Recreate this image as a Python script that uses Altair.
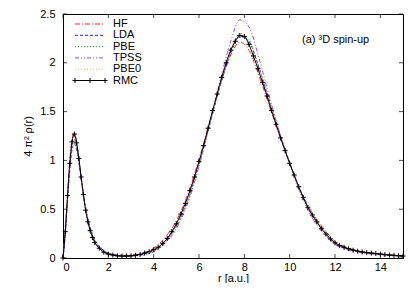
import altair as alt
import pandas as pd

# ---------------- data ----------------
methods = ["HF", "LDA", "PBE", "TPSS", "PBE0"]
colors = {"HF": "#ff2020", "LDA": "#2020ff", "PBE": "#00c000", "TPSS": "#a040f0", "PBE0": "#ffb060"}
dashes = {"HF": [5, 2, 1, 2], "LDA": [3, 2], "PBE": [1, 2], "TPSS": [4, 2, 1, 2, 1, 2], "PBE0": [1, 2]}

r_dft = [0, 0.1, 0.2, 0.3, 0.4, 0.5, 0.6, 0.7, 0.8, 0.9, 1.0, 1.2, 1.4, 1.6, 1.8, 2.0, 2.5, 3.0,
         3.5, 4.0, 4.5, 5.0, 5.5, 6.0, 6.5, 7.0, 7.4, 7.8, 8.2, 8.6, 9.0, 9.5, 10.0, 10.5, 11.0,
         11.5, 12.0, 12.5, 13.0, 14.0, 15.0]

hf = [0, 0.28, 0.66, 1.00, 1.22, 1.28, 1.19, 1.02, 0.83, 0.65, 0.50, 0.29, 0.17, 0.105, 0.065, 0.045,
      0.028, 0.03, 0.05, 0.10, 0.21, 0.38, 0.65, 1.01, 1.42, 1.82, 2.08, 2.21, 2.13, 1.90, 1.63, 1.29,
      0.97, 0.68, 0.46, 0.30, 0.17, 0.11, 0.075, 0.043, 0.022]
lda = [0, 0.24, 0.58, 0.90, 1.11, 1.17, 1.11, 0.98, 0.81, 0.65, 0.51, 0.31, 0.19, 0.12, 0.075, 0.05,
       0.028, 0.025, 0.04, 0.075, 0.17, 0.33, 0.59, 0.96, 1.39, 1.82, 2.10, 2.27, 2.22, 1.98, 1.69, 1.32,
       0.98, 0.67, 0.44, 0.28, 0.155, 0.095, 0.068, 0.038, 0.02]
pbe = [0, 0.25, 0.60, 0.93, 1.14, 1.20, 1.13, 0.99, 0.82, 0.65, 0.50, 0.30, 0.18, 0.11, 0.07, 0.045,
       0.025, 0.022, 0.037, 0.072, 0.165, 0.32, 0.58, 0.95, 1.39, 1.83, 2.12, 2.30, 2.24, 1.99, 1.69, 1.31,
       0.97, 0.66, 0.43, 0.27, 0.15, 0.092, 0.066, 0.037, 0.019]
tpss = [0, 0.26, 0.61, 0.94, 1.16, 1.22, 1.14, 0.99, 0.81, 0.64, 0.49, 0.29, 0.17, 0.10, 0.065, 0.04,
        0.022, 0.018, 0.03, 0.062, 0.15, 0.30, 0.56, 0.94, 1.40, 1.88, 2.22, 2.44, 2.37, 2.09, 1.74, 1.33,
        0.96, 0.64, 0.41, 0.25, 0.14, 0.085, 0.06, 0.033, 0.017]
pbe0 = [0, 0.27, 0.63, 0.97, 1.19, 1.25, 1.17, 1.01, 0.83, 0.65, 0.50, 0.29, 0.175, 0.105, 0.067, 0.043,
        0.024, 0.022, 0.038, 0.075, 0.17, 0.33, 0.59, 0.96, 1.39, 1.83, 2.11, 2.28, 2.22, 1.98, 1.68, 1.31,
        0.97, 0.66, 0.44, 0.28, 0.155, 0.095, 0.068, 0.038, 0.02]

r_rmc = [0.0, 0.1, 0.2, 0.3, 0.4, 0.5, 0.6, 0.7, 0.8, 0.9, 1.0, 1.1, 1.2, 1.3, 1.4,
         1.6, 1.8, 2.0, 2.2, 2.4, 2.6, 2.8, 3.0, 3.2, 3.4, 3.6, 3.8, 4.0, 4.2, 4.4, 4.6, 4.8,
         5.0, 5.2, 5.4, 5.6, 5.8, 6.0, 6.2, 6.4, 6.6, 6.8, 7.0, 7.2, 7.4, 7.6, 7.8, 8.0, 8.2,
         8.4, 8.6, 8.8, 9.0, 9.2, 9.4, 9.6, 9.8, 10.0, 10.2, 10.4, 10.6, 10.8, 11.0, 11.2, 11.4,
         11.6, 11.8, 12.0, 12.2, 12.4, 12.6, 12.8, 13.0, 13.2, 13.4, 13.6, 13.8, 14.0, 14.2,
         14.4, 14.6, 14.8, 15.0]
rmc = [0.00, 0.27, 0.64, 0.97, 1.19, 1.27, 1.18, 1.02, 0.83, 0.65, 0.49, 0.37, 0.28, 0.21, 0.16,
       0.10, 0.06, 0.04, 0.03, 0.022, 0.02, 0.02, 0.022, 0.028, 0.037, 0.05, 0.065, 0.085, 0.11, 0.15,
       0.20, 0.27, 0.35, 0.45, 0.56, 0.69, 0.83, 0.99, 1.15, 1.33, 1.51, 1.68, 1.85, 2.00, 2.13, 2.22,
       2.28, 2.27, 2.19, 2.07, 1.94, 1.80, 1.66, 1.51, 1.37, 1.23, 1.10, 0.97, 0.85, 0.73, 0.62, 0.52,
       0.44, 0.37, 0.30, 0.245, 0.195, 0.155, 0.13, 0.11, 0.095, 0.08, 0.07, 0.062, 0.055, 0.05, 0.045,
       0.04, 0.035, 0.03, 0.027, 0.024, 0.02]

x_ticks = [0, 2, 4, 6, 8, 10, 12, 14]
y_ticks = [0, 0.5, 1, 1.5, 2, 2.5]
legend_names = ["HF", "LDA", "PBE", "TPSS", "PBE0", "RMC"]

W, H = 340, 244
FONT = "Liberation Sans"

xs = alt.Scale(domain=[0, 15], nice=False)
ys = alt.Scale(domain=[0, 2.5], nice=False)

dft_vals = {"HF": hf, "LDA": lda, "PBE": pbe, "TPSS": tpss, "PBE0": pbe0}

layers = []
first = True
for m in methods:
    df = pd.DataFrame({"r": r_dft, "v": dft_vals[m]})
    if first:
        xenc = alt.X("r:Q", scale=xs, title="r [a.u.]",
                     axis=alt.Axis(values=x_ticks, format="~g", labelPadding=3, titlePadding=0))
        yenc = alt.Y("v:Q", scale=ys, title="4 π² ρ(r)",
                     axis=alt.Axis(values=y_ticks, format="~g", labelPadding=8, titlePadding=6))
        first = False
    else:
        xenc = alt.X("r:Q", scale=xs)
        yenc = alt.Y("v:Q", scale=ys)
    layers.append(
        alt.Chart(df).mark_line(color=colors[m], strokeDash=dashes[m], strokeWidth=1,
                                interpolate="monotone").encode(x=xenc, y=yenc)
    )

rmc_df = pd.DataFrame({"r": r_rmc, "v": rmc})
layers.append(alt.Chart(rmc_df).mark_line(color="black", strokeWidth=1, interpolate="monotone")
              .encode(x=alt.X("r:Q", scale=xs), y=alt.Y("v:Q", scale=ys)))
plus = "M-1,0L1,0M0,-1L0,1"
layers.append(alt.Chart(rmc_df).mark_point(shape=plus, filled=False, color="black", size=25,
                                           strokeWidth=1, opacity=1)
              .encode(x=alt.X("r:Q", scale=xs), y=alt.Y("v:Q", scale=ys)))

# inward ticks on all four sides
xt = pd.DataFrame({"t": x_ticks})
yt = pd.DataFrame({"t": y_ticks})
for ypix in [H - 2, 2]:
    layers.append(alt.Chart(xt).mark_tick(color="black", size=4, thickness=1)
                  .encode(x=alt.X("t:Q", scale=xs), y=alt.value(ypix)))
for xpix in [2, W - 2]:
    layers.append(alt.Chart(yt).mark_tick(color="black", size=4, thickness=1)
                  .encode(y=alt.Y("t:Q", scale=ys), x=alt.value(xpix)))

# manual legend
dummy = pd.DataFrame({"a": [0]})
for i, name in enumerate(legend_names):
    yp = 10 + 11.3 * i
    if name == "RMC":
        layers.append(alt.Chart(dummy).mark_rule(color="black", strokeWidth=1)
                      .encode(x=alt.value(12), x2=alt.value(42), y=alt.value(yp)))
        for xp in [12, 27, 42]:
            layers.append(alt.Chart(dummy).mark_point(shape=plus, filled=False, color="black",
                                                      size=25, strokeWidth=1, opacity=1)
                          .encode(x=alt.value(xp), y=alt.value(yp)))
    else:
        layers.append(alt.Chart(dummy).mark_rule(color=colors[name], strokeDash=dashes[name], strokeWidth=1)
                      .encode(x=alt.value(12), x2=alt.value(42), y=alt.value(yp)))
    layers.append(alt.Chart(dummy).mark_text(align="left", baseline="middle", font=FONT, fontSize=11,
                                             color="black")
                  .encode(x=alt.value(50), y=alt.value(yp), text=alt.value(name)))

layers.append(alt.Chart(dummy).mark_text(align="left", baseline="middle", font=FONT, fontSize=11,
                                         color="black")
              .encode(x=alt.value(239), y=alt.value(26), text=alt.value("(a) ³D spin-up")))

chart = alt.layer(*layers).properties(
    width=W, height=H,
    autosize=alt.AutoSizeParams(type="none"),
    padding={"left": 55, "top": 6, "right": 4, "bottom": 25},
).configure_view(stroke="black", strokeWidth=1).configure_axis(
    domain=False, ticks=False, grid=False, labelFont=FONT, labelFontSize=11, labelColor="black",
    titleFont=FONT, titleFontSize=11, titleFontWeight="normal", titleColor="black"
)

chart.save("out.html", embed_options={"renderer": "svg", "actions": False})
